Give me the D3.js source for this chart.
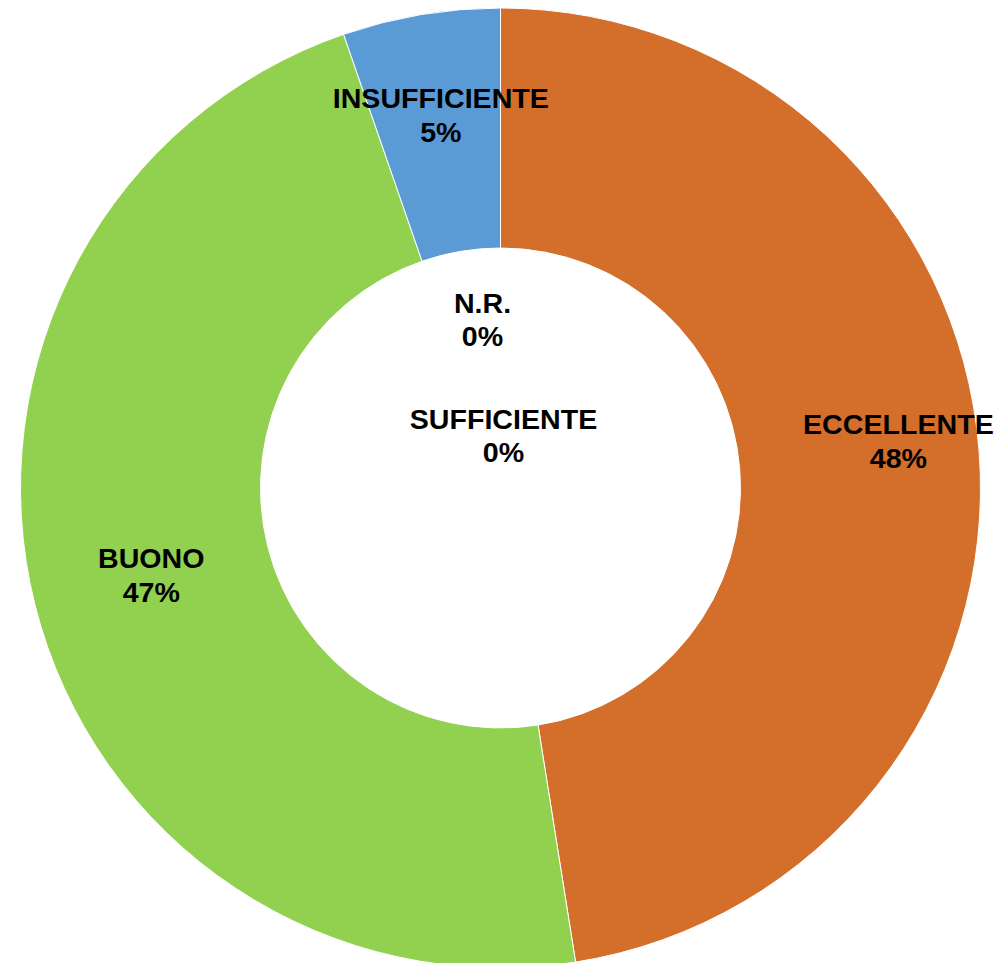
<!DOCTYPE html>
<html>
<head>
<meta charset="utf-8">
<script src="https://cdn.jsdelivr.net/npm/d3@7"></script>
<style>
  html, body { margin: 0; padding: 0; background: #fff; }
  svg { display: block; }
  .lbl { font-family: "Liberation Sans", Arial, sans-serif; font-weight: bold; font-size: 27px; fill: #000; }
</style>
</head>
<body>
<div id="chart"></div>
<script>
// data
var categories = ['ECCELLENTE', 'BUONO', 'SUFFICIENTE', 'INSUFFICIENTE', 'N.R.'];
var values = [47.5, 47.2, 0, 5.3, 0];
var colors = ['#D36E2B', '#92D050', '#A5A5A5', '#5B9BD5', '#FFC000'];

// label nudges (px) from the arc centroid, zero slices are placed from the centre
var nudge = {
  'ECCELLENTE': [39, -18],
  'BUONO': [0, 0],
  'INSUFFICIENTE': [0, -17],
  'SUFFICIENTE': [3, -52],
  'N.R.': [-18, -168]
};

var width = 1000, height = 963,
    cx = 500.5, cy = 488,
    rOut = 480, rIn = 240,
    lineGap = 34;

var svg = d3.select('#chart').append('svg')
    .attr('width', width)
    .attr('height', height);

var g = svg.append('g')
    .attr('transform', 'translate(' + cx + ',' + cy + ')');

var table = categories.map(function(c, i) {
  return { name: c, value: values[i], color: colors[i] };
});

var pie = d3.pie()
    .sort(null)
    .value(function(d) { return d.value; });

var arc = d3.arc()
    .innerRadius(rIn)
    .outerRadius(rOut);

var arcs = pie(table);

g.selectAll('path.slice')
    .data(arcs)
    .enter().append('path')
    .attr('class', 'slice')
    .attr('d', arc)
    .attr('fill', function(d) { return d.data.color; })
    .attr('stroke', '#fff')
    .attr('stroke-width', function(d) { return d.data.value > 0 ? 1 : 0; });

// labels
var lbl = g.selectAll('g.lbl-g')
    .data(arcs)
    .enter().append('g')
    .attr('class', 'lbl-g')
    .attr('transform', function(d) {
      var p = d.data.value > 0 ? arc.centroid(d) : [0, 0],
          n = nudge[d.data.name] || [0, 0];
      return 'translate(' + (p[0] + n[0]) + ',' + (p[1] + n[1]) + ') scale(1.06,1)';
    });

lbl.append('text')
    .attr('class', 'lbl')
    .attr('text-anchor', 'middle')
    .attr('y', -lineGap / 2 + 9.5)
    .text(function(d) { return d.data.name; });

lbl.append('text')
    .attr('class', 'lbl')
    .attr('text-anchor', 'middle')
    .attr('y', lineGap / 2 + 9.5)
    .text(function(d) { return Math.round(d.data.value) + '%'; });
</script>
</body>
</html>
